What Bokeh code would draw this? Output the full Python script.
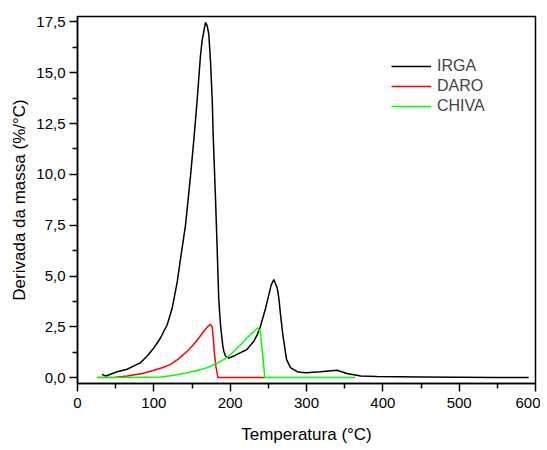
from bokeh.plotting import figure
from bokeh.models import FixedTicker, Legend, LegendItem, Range1d
from bokeh.embed import file_html
from bokeh.resources import INLINE

# IRGA
irga_x = [32, 37, 52, 65, 78, 82.5, 91.3, 100, 108.7, 117.5, 124, 130.6, 135, 141.5, 148, 152.4,
          156.8, 161, 163.3, 167.7, 170, 172, 174.2, 176.5, 177.7, 180.8, 183, 185, 187.3, 190.4,
          191.7, 193.9, 198, 204.8, 209, 215.7, 222, 224.5, 231, 235.4, 239.7, 246.3, 248.5, 253.7,
          257.2, 261.6, 263.8, 266, 269.5, 270.3, 273.8, 279, 287.8, 292, 300, 318, 340, 353, 371,
          392, 420, 450, 500, 550, 591]
irga_y = [0.16, 0.08, 0.29, 0.41, 0.65, 0.73, 1.06, 1.46, 1.95, 2.6, 3.41, 4.7, 5.85, 7.5, 9.9, 11.7,
          13.66, 15.8, 16.6, 17.48, 17.3, 16.9, 15.6, 13.66, 12.0, 8.8, 6.3, 3.9, 2.6, 1.55,
          1.3, 1.06, 0.96, 1.06, 1.14, 1.27, 1.38, 1.5, 1.79, 2.1, 2.52, 3.4, 3.74, 4.55,
          4.83, 4.41, 3.9, 3.09, 1.95, 1.79, 0.9, 0.49, 0.29, 0.26, 0.24, 0.29, 0.36, 0.2, 0.08,
          0.05, 0.04, 0.03, 0.02, 0.01, 0.01]

# DARO
daro_x = [26, 50, 65, 85, 100, 112, 122, 131, 139, 146, 152, 159, 165.5, 170, 174, 176.4, 178,
          179.5, 181.5, 184, 245]
daro_y = [0, 0.02, 0.08, 0.2, 0.36, 0.5, 0.65, 0.88, 1.14, 1.38, 1.63, 1.95, 2.28, 2.48, 2.63, 2.5,
          1.9, 1.14, 0.5, 0, 0]

# CHIVA
chiva_x = [26, 60, 90, 109, 125, 143.7, 158, 170, 181, 192, 201, 209, 216, 222, 229, 236, 239.7,
           241, 243, 245.4, 364]
chiva_y = [0, 0.005, 0.02, 0.03, 0.1, 0.24, 0.36, 0.49, 0.68, 0.9, 1.15, 1.46, 1.7, 1.95, 2.2,
           2.44, 2.28, 1.7, 0.98, 0, 0]

x_ticks = [0, 100, 200, 300, 400, 500, 600]
y_ticks = [0, 2.5, 5, 7.5, 10, 12.5, 15, 17.5]
y_labels = ["0,0", "2,5", "5,0", "7,5", "10,0", "12,5", "15,0", "17,5"]

FONT = "Liberation Sans"

p = figure(width=540, height=446, output_backend="svg", toolbar_location=None,
           x_range=Range1d(0, 600), y_range=Range1d(-0.29, 17.77),
           min_border_left=77, min_border_right=5, min_border_top=16, min_border_bottom=60)

p.xgrid.visible = False
p.ygrid.visible = False
p.outline_line_color = "black"
p.outline_line_width = 1.5

r1 = p.line(irga_x, irga_y, line_color="black", line_width=1.5)
r2 = p.line(daro_x, daro_y, line_color="#ff0000", line_width=1.5)
r3 = p.line(chiva_x, chiva_y, line_color="#00ff00", line_width=1.5)

p.xaxis.ticker = FixedTicker(ticks=x_ticks, minor_ticks=[50, 150, 250, 350, 450, 550])
p.yaxis.ticker = FixedTicker(ticks=y_ticks, minor_ticks=[1.25, 3.75, 6.25, 8.75, 11.25, 13.75, 16.25])
p.yaxis.major_label_overrides = {t: l for t, l in zip(y_ticks, y_labels)}

for ax in (p.xaxis[0], p.yaxis[0]):
    ax.axis_line_width = 1.5
    ax.axis_line_color = "black"
    ax.major_tick_in = 0
    ax.major_tick_out = 8
    ax.minor_tick_in = 0
    ax.minor_tick_out = 5
    ax.major_tick_line_width = 1.5
    ax.minor_tick_line_width = 1.5
    ax.major_label_text_font = FONT
    ax.major_label_text_font_size = "15px"
    ax.major_label_text_color = "black"
    ax.axis_label_text_font = FONT
    ax.axis_label_text_font_size = "17px"
    ax.axis_label_text_font_style = "normal"
    ax.axis_label_text_color = "black"

p.xaxis.axis_label = "Temperatura (°C)"
p.yaxis.axis_label = "Derivada da massa (%/°C)"
p.xaxis.major_label_standoff = 6
p.yaxis.major_label_standoff = 4
p.xaxis.axis_label_standoff = 14
p.yaxis.axis_label_standoff = 4

legend = Legend(items=[LegendItem(label="IRGA", renderers=[r1]),
                       LegendItem(label="DARO", renderers=[r2]),
                       LegendItem(label="CHIVA", renderers=[r3])],
                location=(314, 267))
legend.border_line_color = None
legend.background_fill_alpha = 0
legend.padding = 0
legend.margin = 0
legend.spacing = 0
legend.glyph_width = 40
legend.glyph_height = 20
legend.label_height = 20
legend.label_standoff = 6
legend.label_text_line_height = 1.0
legend.label_text_font = FONT
legend.label_text_font_size = "16px"
p.add_layout(legend)

open("out.html", "w").write(file_html(p, INLINE))
